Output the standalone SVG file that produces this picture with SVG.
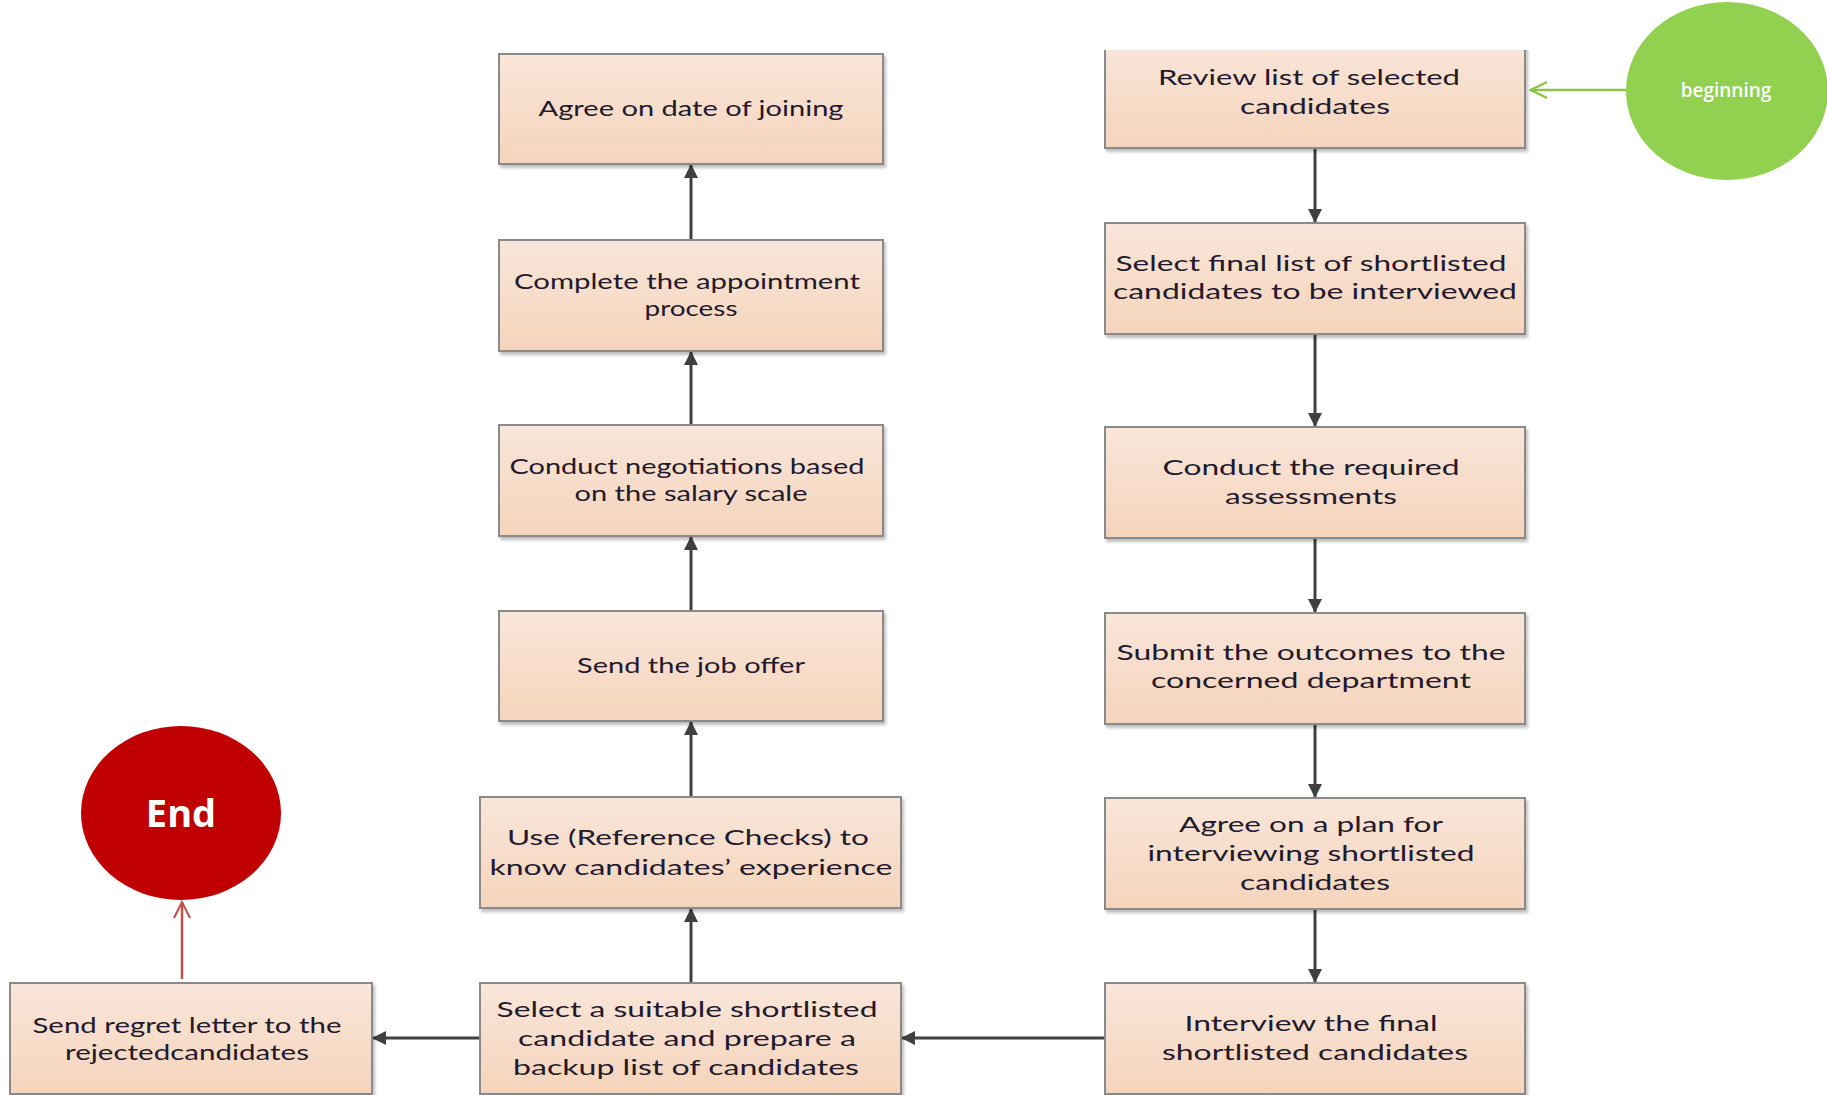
<svg xmlns="http://www.w3.org/2000/svg" width="1827" height="1095" viewBox="0 0 1827 1095">
<defs>
<linearGradient id="g" x1="0" y1="0" x2="0" y2="1">
<stop offset="0" stop-color="#f9e6da"/>
<stop offset="1" stop-color="#f5d4bb"/>
</linearGradient>
<filter id="sh" x="-5%" y="-5%" width="115%" height="120%">
<feDropShadow dx="2" dy="3" stdDeviation="1.5" flood-color="#000" flood-opacity="0.25"/>
</filter>
<marker id="ah" markerWidth="14" markerHeight="14" refX="13" refY="7" orient="auto" markerUnits="userSpaceOnUse" viewBox="0 0 14 14">
<path d="M0,0 L14,7 L0,14 z" fill="#404040"/>
</marker>
<marker id="ahg" markerWidth="20" markerHeight="20" refX="18" refY="10" orient="auto" markerUnits="userSpaceOnUse" viewBox="0 0 20 20">
<path d="M2,2 L18,10 L2,18" fill="none" stroke="#8cc44a" stroke-width="2.5"/>
</marker>
<marker id="ahr" markerWidth="20" markerHeight="20" refX="18" refY="10" orient="auto" markerUnits="userSpaceOnUse" viewBox="0 0 20 20">
<path d="M2,2 L18,10 L2,18" fill="none" stroke="#c0504d" stroke-width="2"/>
</marker>
<clipPath id="topclip"><rect x="0" y="50" width="1827" height="1100"/></clipPath>
</defs>
<style>
.box{fill:url(#g);stroke:#8a8a8a;stroke-width:2;filter:url(#sh)}
.t{font-family:Lato,"Liberation Sans",sans-serif;font-size:22px;fill:#1f1a2e;text-anchor:middle}
.c{stroke:#404040;stroke-width:3;fill:none;marker-end:url(#ah)}
</style>
<rect width="1827" height="1095" fill="#ffffff"/>

<g id="connectors">
<line class="c" x1="1315" y1="148" x2="1315" y2="222"/>
<line class="c" x1="1315" y1="334" x2="1315" y2="426"/>
<line class="c" x1="1315" y1="538" x2="1315" y2="612"/>
<line class="c" x1="1315" y1="724" x2="1315" y2="797"/>
<line class="c" x1="1315" y1="909" x2="1315" y2="982"/>
<line class="c" x1="1105" y1="1038" x2="902" y2="1038"/>
<line class="c" x1="480" y1="1038" x2="373" y2="1038"/>
<line class="c" x1="691" y1="983" x2="691" y2="909"/>
<line class="c" x1="691" y1="797" x2="691" y2="722"/>
<line class="c" x1="691" y1="611" x2="691" y2="537"/>
<line class="c" x1="691" y1="425" x2="691" y2="352"/>
<line class="c" x1="691" y1="240" x2="691" y2="165"/>
<line x1="1626" y1="90" x2="1531" y2="90" stroke="#8cc44a" stroke-width="2.5" marker-end="url(#ahg)"/>
<line x1="182" y1="979" x2="182" y2="902" stroke="#c0504d" stroke-width="2.5" marker-end="url(#ahr)"/>
</g>

<g id="review" clip-path="url(#topclip)">
<rect class="box" x="1105" y="40" width="420" height="108"/>
<text class="t" x="1309" y="85" textLength="302" lengthAdjust="spacingAndGlyphs">Review list of selected</text>
<text class="t" x="1315" y="114" textLength="150" lengthAdjust="spacingAndGlyphs">candidates</text>
</g>
<g id="select-final">
<rect class="box" x="1105" y="223" width="420" height="111"/>
<text class="t" x="1311" y="271" textLength="391" lengthAdjust="spacingAndGlyphs">Select final list of shortlisted</text>
<text class="t" x="1315" y="299" textLength="404" lengthAdjust="spacingAndGlyphs">candidates to be interviewed</text>
</g>
<g id="conduct-assessments">
<rect class="box" x="1105" y="427" width="420" height="111"/>
<text class="t" x="1311" y="475" textLength="297" lengthAdjust="spacingAndGlyphs">Conduct the required</text>
<text class="t" x="1311" y="504" textLength="172" lengthAdjust="spacingAndGlyphs">assessments</text>
</g>
<g id="submit-outcomes">
<rect class="box" x="1105" y="613" width="420" height="111"/>
<text class="t" x="1311" y="660" textLength="389" lengthAdjust="spacingAndGlyphs">Submit the outcomes to the</text>
<text class="t" x="1311" y="688" textLength="320" lengthAdjust="spacingAndGlyphs">concerned department</text>
</g>
<g id="agree-plan">
<rect class="box" x="1105" y="798" width="420" height="111"/>
<text class="t" x="1311" y="832" textLength="264" lengthAdjust="spacingAndGlyphs">Agree on a plan for</text>
<text class="t" x="1311" y="861" textLength="327" lengthAdjust="spacingAndGlyphs">interviewing shortlisted</text>
<text class="t" x="1315" y="890" textLength="150" lengthAdjust="spacingAndGlyphs">candidates</text>
</g>
<g id="interview">
<rect class="box" x="1105" y="983" width="420" height="111"/>
<text class="t" x="1311" y="1031" textLength="253" lengthAdjust="spacingAndGlyphs">Interview the final</text>
<text class="t" x="1315" y="1060" textLength="306" lengthAdjust="spacingAndGlyphs">shortlisted candidates</text>
</g>

<g id="agree-date">
<rect class="box" x="499" y="54" width="384" height="110"/>
<text class="t" x="691" y="116" textLength="305" lengthAdjust="spacingAndGlyphs">Agree on date of joining</text>
</g>
<g id="complete-appointment">
<rect class="box" x="499" y="240" width="384" height="111"/>
<text class="t" x="687" y="289" textLength="346" lengthAdjust="spacingAndGlyphs">Complete the appointment</text>
<text class="t" x="691" y="316" textLength="93" lengthAdjust="spacingAndGlyphs">process</text>
</g>
<g id="conduct-negotiations">
<rect class="box" x="499" y="425" width="384" height="111"/>
<text class="t" x="687" y="474" textLength="355" lengthAdjust="spacingAndGlyphs">Conduct negotiations based</text>
<text class="t" x="691" y="501" textLength="233" lengthAdjust="spacingAndGlyphs">on the salary scale</text>
</g>
<g id="send-offer">
<rect class="box" x="499" y="611" width="384" height="110"/>
<text class="t" x="691" y="673" textLength="228" lengthAdjust="spacingAndGlyphs">Send the job offer</text>
</g>
<g id="reference-checks">
<rect class="box" x="480" y="797" width="421" height="111"/>
<text class="t" x="688" y="845" textLength="362" lengthAdjust="spacingAndGlyphs">Use (Reference Checks) to</text>
<text class="t" x="691" y="875" textLength="403" lengthAdjust="spacingAndGlyphs">know candidates’ experience</text>
</g>
<g id="select-suitable">
<rect class="box" x="480" y="983" width="421" height="111"/>
<text class="t" x="687" y="1017" textLength="381" lengthAdjust="spacingAndGlyphs">Select a suitable shortlisted</text>
<text class="t" x="687" y="1046" textLength="338" lengthAdjust="spacingAndGlyphs">candidate and prepare a</text>
<text class="t" x="686" y="1075" textLength="346" lengthAdjust="spacingAndGlyphs">backup list of candidates</text>
</g>
<g id="regret-letter">
<rect class="box" x="10" y="983" width="362" height="111"/>
<text class="t" x="187" y="1033" textLength="309" lengthAdjust="spacingAndGlyphs">Send regret letter to the</text>
<text class="t" x="187" y="1060" textLength="244" lengthAdjust="spacingAndGlyphs">rejectedcandidates</text>
</g>

<g id="end">
<ellipse cx="181" cy="813" rx="100" ry="87" fill="#c00000"/>
<text x="181" y="827" font-family="'Open Sans','Liberation Sans',sans-serif" font-size="38" font-weight="bold" fill="#ffffff" text-anchor="middle">End</text>
</g>
<g id="beginning">
<ellipse cx="1727" cy="91" rx="101" ry="89" fill="#92d050"/>
<text x="1726" y="97" font-family="'Open Sans','Liberation Sans',sans-serif" font-size="19" font-weight="600" fill="#ffffff" text-anchor="middle">beginning</text>
</g>
</svg>
